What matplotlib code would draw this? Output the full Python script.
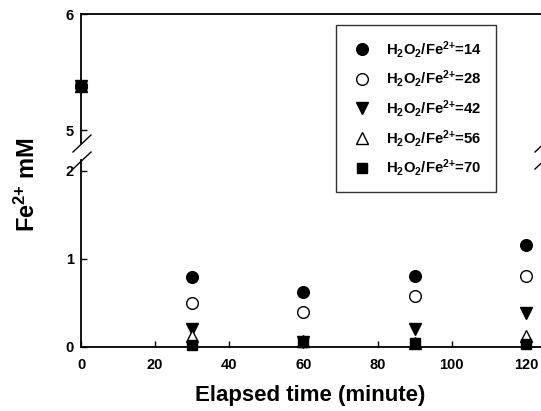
import numpy as np
import matplotlib
matplotlib.use("Agg")
import matplotlib.pyplot as plt
from matplotlib.lines import Line2D

plt.rcParams["font.family"] = ["Liberation Sans", "DejaVu Sans"]
plt.rcParams["font.weight"] = "bold"
plt.rcParams["mathtext.fontset"] = "custom"
plt.rcParams["mathtext.rm"] = "Liberation Sans:bold"
plt.rcParams["mathtext.bf"] = "Liberation Sans:bold"
plt.rcParams["mathtext.it"] = "Liberation Sans:bold"
plt.rcParams["mathtext.default"] = "bf"

# ── Data ─────────────────────────────────────────────────────────────────────
time_min = np.array([0, 30, 60, 90, 120])
fe_14 = np.array([5.38, 0.79, 0.62, 0.81, 1.16])
fe_28 = np.array([5.38, 0.50, 0.40, 0.58, 0.81])
fe_42 = np.array([5.38, 0.20, 0.06, 0.20, 0.39])
fe_56 = np.array([5.38, 0.12, 0.07, 0.05, 0.12])
fe_70 = np.array([5.38, 0.02, 0.06, 0.04, 0.03])
ratios = [14, 28, 42, 56, 70]

series = [fe_14, fe_28, fe_42, fe_56, fe_70]
styles = [
    dict(marker="o", mfc="black", ms=8.4),
    dict(marker="o", mfc="white", ms=8.4),
    dict(marker="v", mfc="black", ms=8.4),
    dict(marker="^", mfc="white", ms=8.4),
    dict(marker="s", mfc="black", ms=7.2),
]

W, H = 541, 411
fig = plt.figure(figsize=(W / 100, H / 100), dpi=100)

def fx(px):
    return px / W

def fy(py):
    return 1 - py / H

# axes in pixel terms: left spine x=81, right spine ~544 (just off image)
left, right = 81, 544.4
ax_lo = fig.add_axes([fx(left), fy(347), fx(right - left), (347 - 160) / H])
ax_hi = fig.add_axes([fx(left), fy(143), fx(right - left), (143 - 14) / H])

ax_lo.set_ylim(0, 2.125)
ax_hi.set_ylim(4.89, 6.0)
for ax in (ax_lo, ax_hi):
    ax.set_xlim(0, 125)
    for s in ax.spines.values():
        s.set_linewidth(1.3)
    ax.spines["right"].set_visible(False)
    ax.tick_params(direction="in", length=4, width=1, labelsize=10.5, pad=5)

ax_lo.spines["top"].set_visible(False)
ax_hi.spines["bottom"].set_visible(False)
ax_lo.set_yticks([0, 1, 2])
ax_hi.set_yticks([5, 6])
ax_lo.set_xticks([0, 20, 40, 60, 80, 100, 120])
ax_lo.tick_params(axis="x", pad=8)
ax_hi.set_xticks([])

for vals, st in zip(series, styles):
    hi = vals > 2
    ax_hi.plot(time_min[hi], vals[hi], ls="none", mec="black", mew=1,
               clip_on=False, **st)
    ax_lo.plot(time_min[~hi], vals[~hi], ls="none", mec="black", mew=1,
               clip_on=False, **st)

# ── Axis break marks ─────────────────────────────────────────────────────────
for cx in (82, 544):
    for cy in (143.5, 160.5):
        fig.add_artist(Line2D([fx(cx - 9), fx(cx + 9)], [fy(cy + 8.5), fy(cy - 8.5)],
                              color="black", lw=1))

# ── Legend ───────────────────────────────────────────────────────────────────
handles = [Line2D([], [], ls="none", mec="black", mew=1, **st) for st in styles]
labels = [r"H$_2$O$_2$/Fe$^{\text{2+}}$=%d" % r for r in ratios]
leg = fig.legend(handles, labels, loc="upper left",
                 bbox_to_anchor=(fx(336), fy(25)), frameon=True, fancybox=False,
                 edgecolor="black", fontsize=10.7, labelspacing=0.58,
                 handletextpad=0.8, borderpad=0.93, handlelength=1.65,
                 borderaxespad=0)
leg.get_frame().set_linewidth(1)

ax_lo.set_xlabel("Elapsed time (minute)", fontsize=16, fontweight="bold")
ax_lo.xaxis.set_label_coords((310 - left) / (right - left), -0.205)
fig.text(fx(27), fy(185), r"Fe$^{\text{2+}}$ mM", rotation=90, fontsize=17,
         fontweight="bold", ha="center", va="center")

fig.savefig("out.png", dpi=100)
